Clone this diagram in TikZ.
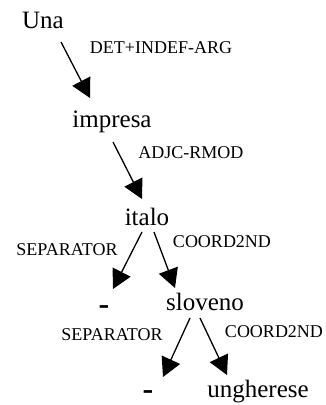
\documentclass[tikz,border=0pt]{standalone}
\usepackage{fontspec}
\setmainfont{Liberation Serif}
\usetikzlibrary{arrows.meta}

\begin{document}
\begin{tikzpicture}[x=1pt,y=-1pt]
      %styles for words, relation labels and dependency arrows
      \tikzset{
      word/.style={font=\fontsize{25}{30}\selectfont, inner sep=0pt, anchor=base},
      sep/.style={font=\fontsize{32}{36}\selectfont\bfseries, inner sep=0pt, anchor=base},
      rel/.style={font=\fontsize{18}{21}\selectfont, inner sep=0pt, anchor=base},
      dep/.style={-{Triangle[length=19pt,width=20pt]}, line width=1.3pt},
      }
      \useasboundingbox (0,0) rectangle (325,405);

      %words
      \node[word] (una) at (43,28) {Una};
      \node[word] (impresa) at (112,127) {impresa};
      \node[word] (italo) at (147,225) {italo};
      \node[sep] (dash1) at (104,314) {-};
      \node[word] (sloveno) at (205,310) {sloveno};
      \node[sep] (dash2) at (148,399) {-};
      \node[word] (ungherese) at (258,397) {ungherese};

      %relation labels
      \node[rel] (detarg) at (161,53) {DET+INDEF-ARG};
      \node[rel] (adjc) at (191,158) {ADJC-RMOD};
      \node[rel] (sepa) at (67,255) {SEPARATOR};
      \node[rel] (coorda) at (222,247) {COORD2ND};
      \node[rel] (sepb) at (112,340) {SEPARATOR};
      \node[rel] (coordb) at (274,337) {COORD2ND};

      %dependencies
      \draw[dep] ([shift={(18,14)}]una.base) -- ([shift={(-22,-29)}]impresa.base);
      \draw[dep] ([shift={(1,15)}]impresa.base) -- ([shift={(-5,-26)}]italo.base);
      \draw[dep] ([shift={(-5,7)}]italo.base) -- ([shift={(9,-25)}]dash1.base);
      \draw[dep] ([shift={(7,7)}]italo.base) -- ([shift={(-30,-22)}]sloveno.base);
      \draw[dep] ([shift={(-15,8)}]sloveno.base) -- ([shift={(15,-22)}]dash2.base);
      \draw[dep] ([shift={(-5,8)}]sloveno.base) -- ([shift={(-31,-22)}]ungherese.base);
\end{tikzpicture}
\end{document}
